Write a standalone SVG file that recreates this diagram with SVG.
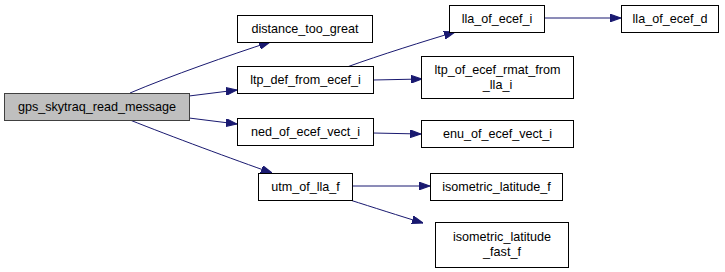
<svg xmlns="http://www.w3.org/2000/svg" width="725" height="272" viewBox="0 0 725 272">
<style>
  .node rect { fill: #ffffff; stroke: #000000; stroke-width: 1; }
  .node.root rect { fill: #bfbfbf; stroke: #404040; }
  .node text { font-family: "Liberation Sans", Arial, sans-serif; font-size: 12.6px; fill: #000000; text-anchor: middle; }
  .edges path { fill: none; stroke: #191970; stroke-width: 1; }
</style>
<defs>
  <marker id="arrow" viewBox="0 0 10 7" refX="10" refY="3.5" markerWidth="11" markerHeight="8" markerUnits="userSpaceOnUse" orient="auto">
    <path d="M0,0 L10,3.5 L0,7 Z" fill="#191970" stroke="#191970"/>
  </marker>
</defs>
<rect width="725" height="272" fill="#ffffff"/>
<g class="edges">
  <path d="M130,93 C170,76 230,55 270,42" marker-end="url(#arrow)"/>
  <path d="M189,96 L237,90" marker-end="url(#arrow)"/>
  <path d="M189,118 L237,124" marker-end="url(#arrow)"/>
  <path d="M130,120 C170,136 235,160 272,173" marker-end="url(#arrow)"/>
  <path d="M347,67 C380,55 425,41 455,32" marker-end="url(#arrow)"/>
  <path d="M373,80 L422,79" marker-end="url(#arrow)"/>
  <path d="M373,133 L421,134" marker-end="url(#arrow)"/>
  <path d="M544,18 L621,18" marker-end="url(#arrow)"/>
  <path d="M352,186 L430,186" marker-end="url(#arrow)"/>
  <path d="M350,200 C372,207 400,216 423,223" marker-end="url(#arrow)"/>
</g>
<g id="gps_skytraq_read_message" class="node root">
  <rect x="4.5" y="93.5" width="185" height="27"/>
  <text x="97" y="111">gps_skytraq_read_message</text>
</g>
<g id="distance_too_great" class="node">
  <rect x="237.5" y="15.5" width="135" height="27"/>
  <text x="305" y="33">distance_too_great</text>
</g>
<g id="ltp_def_from_ecef_i" class="node">
  <rect x="237.5" y="66.5" width="136" height="27"/>
  <text x="305.5" y="84">ltp_def_from_ecef_i</text>
</g>
<g id="ned_of_ecef_vect_i" class="node">
  <rect x="237.5" y="118.5" width="136" height="27"/>
  <text x="305.5" y="136">ned_of_ecef_vect_i</text>
</g>
<g id="utm_of_lla_f" class="node">
  <rect x="258.5" y="173.5" width="94" height="27"/>
  <text x="305.5" y="191">utm_of_lla_f</text>
</g>
<g id="lla_of_ecef_i" class="node">
  <rect x="449.5" y="5.5" width="95" height="27"/>
  <text x="497" y="23">lla_of_ecef_i</text>
</g>
<g id="lla_of_ecef_d" class="node">
  <rect x="621.5" y="5.5" width="97" height="27"/>
  <text x="670" y="23">lla_of_ecef_d</text>
</g>
<g id="ltp_of_ecef_rmat_from_lla_i" class="node">
  <rect x="421.5" y="56.5" width="152" height="42"/>
  <text x="497.5" y="74">ltp_of_ecef_rmat_from</text>
  <text x="497.5" y="89">_lla_i</text>
</g>
<g id="enu_of_ecef_vect_i" class="node">
  <rect x="421.5" y="120.5" width="152" height="27"/>
  <text x="497.5" y="138">enu_of_ecef_vect_i</text>
</g>
<g id="isometric_latitude_f" class="node">
  <rect x="430.5" y="173.5" width="132" height="27"/>
  <text x="496.5" y="191">isometric_latitude_f</text>
</g>
<g id="isometric_latitude_fast_f" class="node">
  <rect x="435.5" y="222.5" width="133" height="45"/>
  <text x="502" y="241">isometric_latitude</text>
  <text x="502" y="256">_fast_f</text>
</g>
</svg>
